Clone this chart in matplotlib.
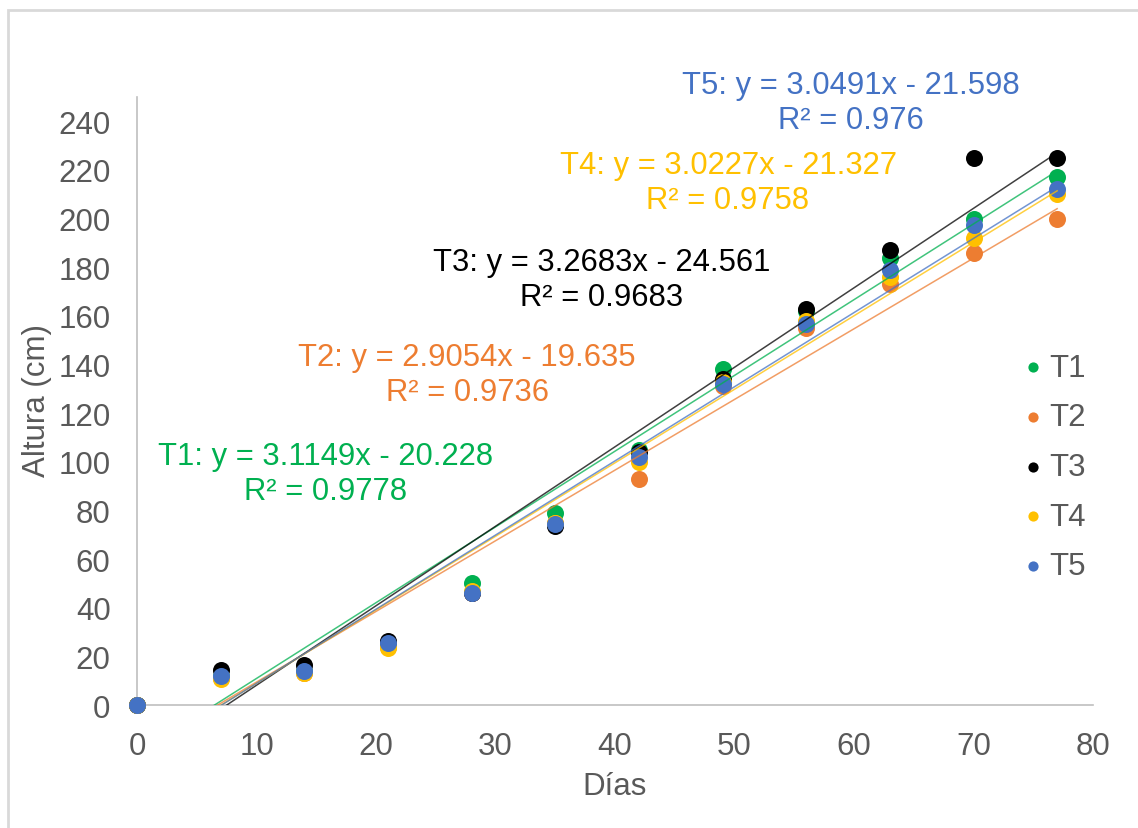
import matplotlib
matplotlib.use("Agg")
import matplotlib.pyplot as plt
from matplotlib.patches import Rectangle
import numpy as np

plt.rcParams['font.family'] = ['Liberation Sans', 'DejaVu Sans']

dias = [0, 7, 14, 21, 28, 35, 42, 49, 56, 63, 70, 77]
T1 = [0, 12, 14, 25, 50, 79, 105, 138, 162, 184, 200, 217]
T2 = [0, 11, 13, 24, 46, 75, 93, 131, 155, 173, 186, 200]
T3 = [0, 14.5, 16.5, 26.5, 46, 73.5, 104, 134, 163, 187, 225, 225]
T4 = [0, 10.5, 13, 23.5, 47, 75, 100, 133, 158, 176, 192, 210]
T5 = [0, 12, 14, 25.5, 46, 74.5, 102, 132, 156.5, 179, 197.5, 212]

names = ["T1", "T2", "T3", "T4", "T5"]
colors = ["#00B050", "#ED7D31", "#000000", "#FFC000", "#4472C4"]
slopes = [3.1149, 2.9054, 3.2683, 3.0227, 3.0491]
intercepts = [-20.228, -19.635, -24.561, -21.327, -21.598]
r2 = ["0.9778", "0.9736", "0.9683", "0.9758", "0.976"]
eq_labels = ["T1: y = 3.1149x - 20.228", "T2: y = 2.9054x - 19.635",
             "T3: y = 3.2683x - 24.561", "T4: y = 3.0227x - 21.327",
             "T5: y = 3.0491x - 21.598"]
yticks = list(range(0, 241, 20))
xticks = list(range(0, 81, 10))

W, H = 1138, 829
fig = plt.figure(figsize=(W / 100, H / 100), dpi=100)
ax = fig.add_axes([137 / W, 1 - 706 / H, (1093 - 137) / W, (706 - 98) / H])

series = [T1, T2, T3, T4, T5]
for s, c, n in zip(series, colors, names):
    ax.scatter(dias, s, s=150, color=c, label=n, zorder=3, linewidths=0, clip_on=False)

xl = np.array([0, 77])
for m, b, c in zip(slopes, intercepts, colors):
    ax.plot(xl, m * xl + b, color=c, lw=1.1, zorder=4, alpha=0.75)

ax.set_xlim(0, 80)
ax.set_ylim(0, 250)
ax.set_xticks(xticks)
ax.set_yticks(yticks)
ax.tick_params(axis="both", length=0, labelsize=22.5, colors="#595959")
ax.tick_params(axis="x", pad=19)
ax.tick_params(axis="y", pad=19)
for sp in ["top", "right"]:
    ax.spines[sp].set_visible(False)
for sp in ["left", "bottom"]:
    ax.spines[sp].set_color("#BFBFBF")
    ax.spines[sp].set_linewidth(1.2)
ax.spines["left"].set_zorder(1)
ax.set_xlabel("Días", fontsize=22.5, color="#595959")
ax.set_ylabel("Altura (cm)", fontsize=22.5, color="#595959")
ax.xaxis.set_label_coords((615 - 137) / (1093 - 137), -(787 - 706) / (706 - 98))
ax.yaxis.set_label_coords(-(137 - 37) / (1093 - 137), (706 - 400) / (706 - 98))
ax.xaxis.label.set_va("center")
ax.yaxis.label.set_va("center")

# equation labels (pixel centres)
pos = [(326, 457), (467, 358), (602, 263), (728, 166), (851, 86)]
for (px, py), lab, r, c in zip(pos, eq_labels, r2, colors):
    fig.text(px / W, 1 - py / H, lab, color=c, fontsize=22.3, ha="center", va="center")
    fig.text(px / W, 1 - (py + 35) / H, "R² = " + r, color=c, fontsize=22.3, ha="center", va="center")

leg = ax.legend(loc="upper left", bbox_to_anchor=((1002 - 137) / (1093 - 137), 1 - (338 - 98) / (706 - 98)),
                frameon=False, fontsize=22.5, labelcolor="#595959", handletextpad=0.0,
                markerscale=0.6, labelspacing=0.63, borderpad=0, handlelength=1.0)

fig.patches.append(Rectangle((8 / W, -0.01), 1.1, 1 - 11 / H + 0.01, transform=fig.transFigure,
                             fill=False, edgecolor="#D9D9D9", linewidth=2))

fig.savefig("out.png", dpi=100)
